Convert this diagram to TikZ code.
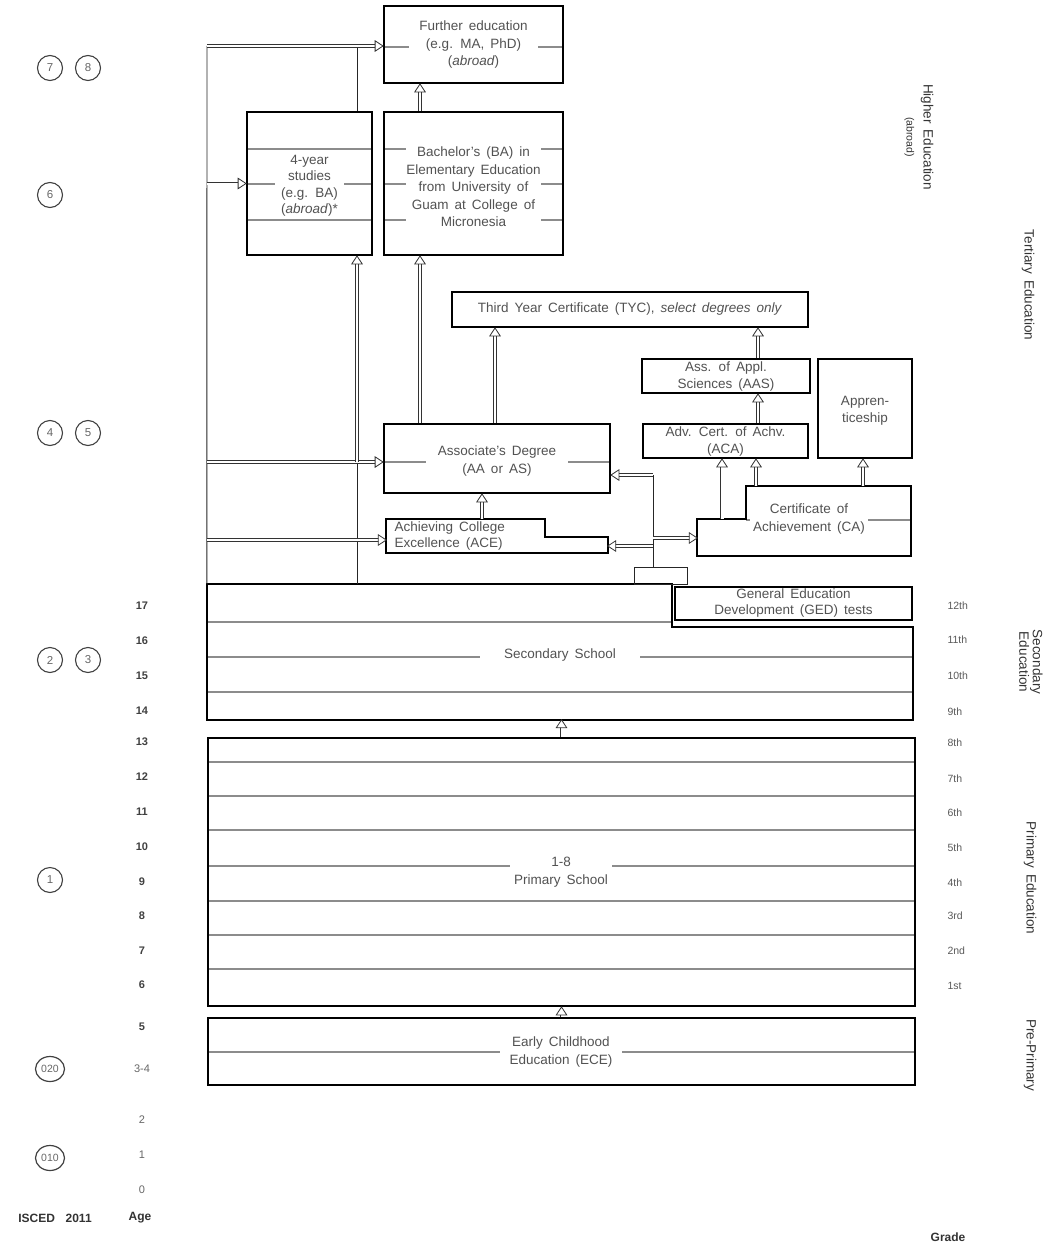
\documentclass[tikz,border=0pt]{standalone}
\usepackage{fontspec}
\setmainfont{Liberation Sans}[WordSpace=1.6]
\usetikzlibrary{arrows.meta,shapes.geometric,fit,calc}
\tikzset{
  hd/.pic={\draw[fill=white, draw=black!80, line width=0.8pt, line join=miter] (0.4,0) -- (-7.5,5.2) -- (-7.5,-5.2) -- cycle;}
}
\newcommand\DArr[4][]{\draw[dbl,#1] #2 -- #3; \pic[rotate=#4] at #3 {hd};}
\begin{document}
\begin{tikzpicture}[x=1pt,y=-1pt,
  frame/.style={draw=black, line width=2.8pt, inner sep=0pt},
  ghost/.style={inner sep=0pt},
  rowline/.style={draw=black!45, line width=1.1pt},
  conn/.style={draw=black!85, line width=0.9pt},
  dbl/.style={draw=black!80, double=white, double distance=2pt, line width=0.75pt, shorten >=5pt},
  dblw/.style={double distance=3pt},
  txt/.style={inner sep=0.5pt, align=center, text=black!68, font=\fontsize{13.5}{17.5}\selectfont},
  txtw/.style={txt, fill=white},
  circ/.style={circle, draw=black!75, line width=1.1pt, minimum size=25pt, inner sep=0pt, text=black!60, font=\fontsize{11.5}{11.5}\selectfont},
  oval/.style={ellipse, draw=black!75, line width=1.2pt, minimum width=29pt, minimum height=25pt, inner sep=0pt, text=black!60, font=\fontsize{10.5}{10.5}\selectfont},
  agel/.style={text=black!75, font=\bfseries\fontsize{11}{11}\selectfont},
  agelt/.style={text=black!60, font=\fontsize{11}{11}\selectfont},
  grl/.style={text=black!65, anchor=west, font=\fontsize{10.5}{10.5}\selectfont},
  lab/.style={rotate=-90, align=center, text=black!80, font=\fontsize{13.5}{12.5}\selectfont},
  hdr/.style={text=black!80, font=\bfseries\fontsize{12}{12}\selectfont},
  thickpath/.style={line width=2.8pt, line join=miter}
]
\useasboundingbox (0,0) rectangle (1049,1247);

% ---------- row lines behind the boxes ----------
\draw[rowline] (384,47) -- (563,47);
\foreach \y in {149,184,220} {
  \draw[rowline] (247,\y) -- (372,\y);
  \draw[rowline] (384,\y) -- (563,\y);
}
\draw[rowline] (384,462) -- (610,462);
\draw[rowline] (746,520) -- (911,520);
\draw[rowline] (207,622) -- (672,622);
\draw[rowline] (207,657) -- (913,657);
\draw[rowline] (207,692) -- (913,692);
\foreach \y in {762,796,830,866,901,935,969} {
  \draw[rowline] (208,\y) -- (915,\y);
}
\draw[rowline] (208,1052) -- (915,1052);

% ---------- boxes ----------
\node[frame, fit={(384,6) (563,83)}] (fe) {};
\node[frame, fit={(247,112) (372,255)}] (fy) {};
\node[frame, fit={(384,112) (563,255)}] (ba) {};
\node[frame, fit={(452,292) (808,327)}] (tyc) {};
\node[frame, fit={(642,359) (810,393)}] (aas) {};
\node[frame, fit={(643,424) (808,458)}] (aca) {};
\node[frame, fit={(818,359) (912,458)}] (app) {};
\node[frame, fit={(384,424) (610,493)}] (ad) {};
\node[ghost, fit={(386,519) (608,553)}] (ace) {};
\draw[thickpath] (386,519) -- (545,519) -- (545,537) -- (608,537) -- (608,553) -- (386,553) -- cycle;
\node[ghost, fit={(697,486) (911,556)}] (ca) {};
\draw[thickpath] (697,519) -- (746,519) -- (746,486) -- (911,486) -- (911,556) -- (697,556) -- cycle;
\node[frame, fit={(675,587) (912,620)}] (ged) {};
\node[ghost, fit={(207,584) (913,720)}] (sec) {};
\draw[thickpath] (207,584) -- (672,584) -- (672,627) -- (913,627) -- (913,720) -- (207,720) -- cycle;
\node[frame, fit={(208,738) (915,1006)}] (prim) {};
\node[frame, fit={(208,1018) (915,1085)}] (ece) {};
\node[draw=black!85, line width=0.9pt, inner sep=0pt, fit={(634,567) (687,584)}] (sm) {};

% ---------- box texts ----------
\node[txtw, inner xsep=10pt] at (473.5,45) {Further education\\(e.g. MA, PhD)\\(\textit{abroad})};
\node[txtw, inner xsep=6pt, inner ysep=0pt, font=\fontsize{13.5}{16.5}\selectfont] at (309.5,186) {4-year\\studies\\(e.g. BA)\\(\textit{abroad})*};
\node[txtw, inner xsep=0pt] at (473.5,187) {Bachelor's (BA) in\\Elementary Education\\from University of\\Guam at College of\\Micronesia};
\node[txt] at (tyc) {Third Year Certificate (TYC), \textit{select degrees only}};
\node[txt, font=\fontsize{13.5}{17}\selectfont] at (726,377) {Ass. of Appl.\\Sciences (AAS)};
\node[txt, font=\fontsize{13.5}{17}\selectfont] at (725.5,442) {Adv. Cert. of Achv.\\(ACA)};
\node[txt] at (865,411) {Appren-\\ticeship};
\node[txtw, inner xsep=12pt] at (497,461) {Associate's Degree\\(AA or AS)};
\node[txt, align=left, anchor=west, font=\fontsize{13.5}{17}\selectfont] at (394,536) {Achieving College\\Excellence (ACE)};
\node[txtw, inner xsep=3pt] at (809,519) {Certificate of\\Achievement (CA)};
\node[txt, font=\fontsize{13.5}{16}\selectfont] at (ged) {General Education\\Development (GED) tests};
\node[txtw, inner xsep=24pt] at (560,655) {Secondary School};
\node[txtw, inner xsep=4pt] at (561,872) {1-8\\Primary School};
\node[txtw, inner xsep=10pt] at (561,1052) {Early Childhood\\Education (ECE)};

% ---------- connectors ----------
\coordinate (tl) at (207,46);
\coordinate (j1) at (357,46);
\coordinate (l2) at (207,183.5);
\coordinate (l3) at (207,462);
\coordinate (l4) at (207,540);
\coordinate (j2) at (357,462);
\coordinate (x420) at (420,0);
\coordinate (x495) at (495,0);
\coordinate (x758) at (758,0);
\coordinate (x722) at (722,0);
\coordinate (x756) at (756,0);
\coordinate (x863) at (863,0);
\coordinate (x482) at (482,0);
\coordinate (jn) at (653,475);
\coordinate (jace) at (653,546);
\coordinate (jca) at (653,538);

\draw[conn] (tl) -- (sec.north west);
\draw[conn] (j1) -- (j1 |- fy.north);
\draw[conn] (j2 |- sec.north) -- (j2);
\draw[conn] (jn |- sm.north) -- (jn);

\DArr{(tl)}{(tl -| fe.west)}{0}
\DArr{(l2)}{(l2 -| fy.west)}{0}
\DArr{(l3)}{(l3 -| ad.west)}{0}
\DArr{(l4)}{(l4 -| ace.west)}{0}
\DArr{(j2)}{(j2 |- fy.south)}{90}
\DArr{(x420 |- ba.north)}{(x420 |- fe.south)}{90}
\DArr{(x420 |- ad.north)}{(x420 |- ba.south)}{90}
\DArr{(x495 |- ad.north)}{(x495 |- tyc.south)}{90}
\DArr{(x758 |- aas.north)}{(x758 |- tyc.south)}{90}
\DArr{(x758 |- aca.north)}{(x758 |- aas.south)}{90}
\DArr[dblw]{(x722 |- 0,519)}{(x722 |- aca.south)}{90}
\DArr{(x756 |- ca.north)}{(x756 |- aca.south)}{90}
\DArr{(x863 |- ca.north)}{(x863 |- app.south)}{90}
\DArr{(x482 |- ace.north)}{(x482 |- ad.south)}{90}
\DArr{(jn)}{(jn -| ad.east)}{180}
\DArr{(jace)}{(jace -| ace.east)}{180}
\DArr{(jca)}{(jca -| ca.west)}{0}
\DArr{(prim.north)}{(prim.north |- sec.south)}{90}
\DArr{(ece.north)}{(prim.south)}{90}

% ---------- ISCED circles ----------
\node[circ] (c7) at (50,68) {7};
\node[circ] (c8) at (88,68) {8};
\node[circ] (c6) at (50,195) {6};
\node[circ] (c4) at (50,433) {4};
\node[circ] (c5) at (88,433) {5};
\node[circ] (c2) at (50,660) {2};
\node[circ] (c3) at (88,660) {3};
\node[circ] (c1) at (50,880) {1};
\node[oval] (c020) at (50,1069) {020};
\node[oval] (c010) at (50,1158) {010};

% ---------- ages ----------
\foreach \a/\y in {17/606,16/641,15/676,14/711,13/742,12/777,11/812,10/847,9/882,8/916,7/951,6/985,5/1027} {
  \node[agel] (age\a) at (142,\y) {\a};
}
\node[agelt] (age34) at (142,1069) {3-4};
\node[agelt] (age2) at (142,1120) {2};
\node[agelt] (age1) at (142,1155) {1};
\node[agelt] (age0) at (142,1190) {0};

% ---------- grades ----------
\foreach \g/\y in {12th/606,11th/640,10th/676,9th/712,8th/743,7th/779,6th/813,5th/848,4th/883,3rd/916,2nd/951,1st/986} {
  \node[grl] (gr\g) at (944,\y) {\g};
}

% ---------- headers ----------
\node[hdr] (isced) at (55,1218) {ISCED\ \ 2011};
\node[hdr] (agehdr) at (140,1218) {Age};
\node[hdr] (gradehdr) at (948,1237) {Grade};

% ---------- level labels ----------
\node[lab, font=\fontsize{13.5}{17}\selectfont] (lhe) at (919,137) {Higher Education\\{\fontsize{10.5}{10.5}\selectfont (abroad)}};
\node[lab] (lte) at (1028,285) {Tertiary Education};
\node[lab] (lse) at (1031,662) {Secondary\\Education};
\node[lab] (lpe) at (1030,878) {Primary Education};
\node[lab] (lpp) at (1030,1055) {Pre-Primary};
\end{tikzpicture}
\end{document}
